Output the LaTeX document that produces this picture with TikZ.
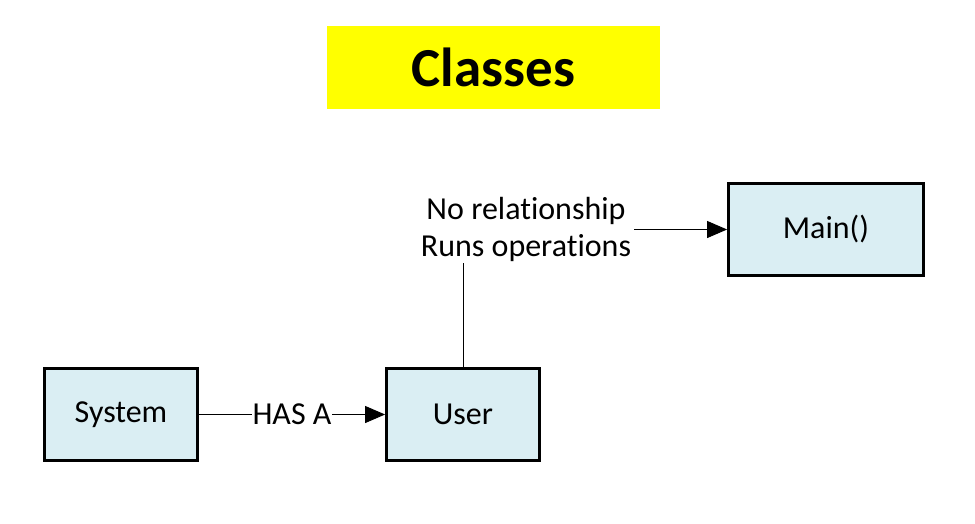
\documentclass[tikz,border=0pt]{standalone}
\usepackage{fontspec}
\setmainfont[Ligatures=NoCommon]{Carlito}
\usetikzlibrary{arrows.meta}
\definecolor{boxfill}{HTML}{DAEEF3}
\definecolor{titlefill}{HTML}{FFFF00}
\begin{document}
\begin{tikzpicture}[x=1pt,y=-1pt,
  classbox/.style={draw=black,line width=2.8pt,fill=boxfill,minimum width=153pt,minimum height=92pt,inner sep=0pt,font=\fontsize{32}{37}\selectfont},
  conn/.style={draw=black,line width=1pt,-{Triangle[length=20pt,width=17pt]}},
  lbl/.style={fill=white,inner sep=1pt,font=\fontsize{32}{37}\selectfont,align=center}]
\useasboundingbox (0,0) rectangle (975,523);
\node[fill=titlefill,minimum width=333pt,minimum height=83pt,inner sep=0pt,font=\fontsize{55}{60}\selectfont\bfseries] (title) at (493.5,67.5) {Classes};
\node[classbox] (system) at (121,414.5) {System};
\node[classbox] (user) at (463,414.5) {User};
\node[classbox,minimum width=195pt] (main) at (826,229.5) {Main()};
\draw[conn] (system.east) -- (user.west);
\node[lbl] (hasa) at (292,414.5) {HAS A};
\draw[conn] (user.north) |- (main.west);
\node[lbl,inner xsep=3pt] (runs) at (526,229.5) {No relationship\\Runs operations};
\end{tikzpicture}
\end{document}
